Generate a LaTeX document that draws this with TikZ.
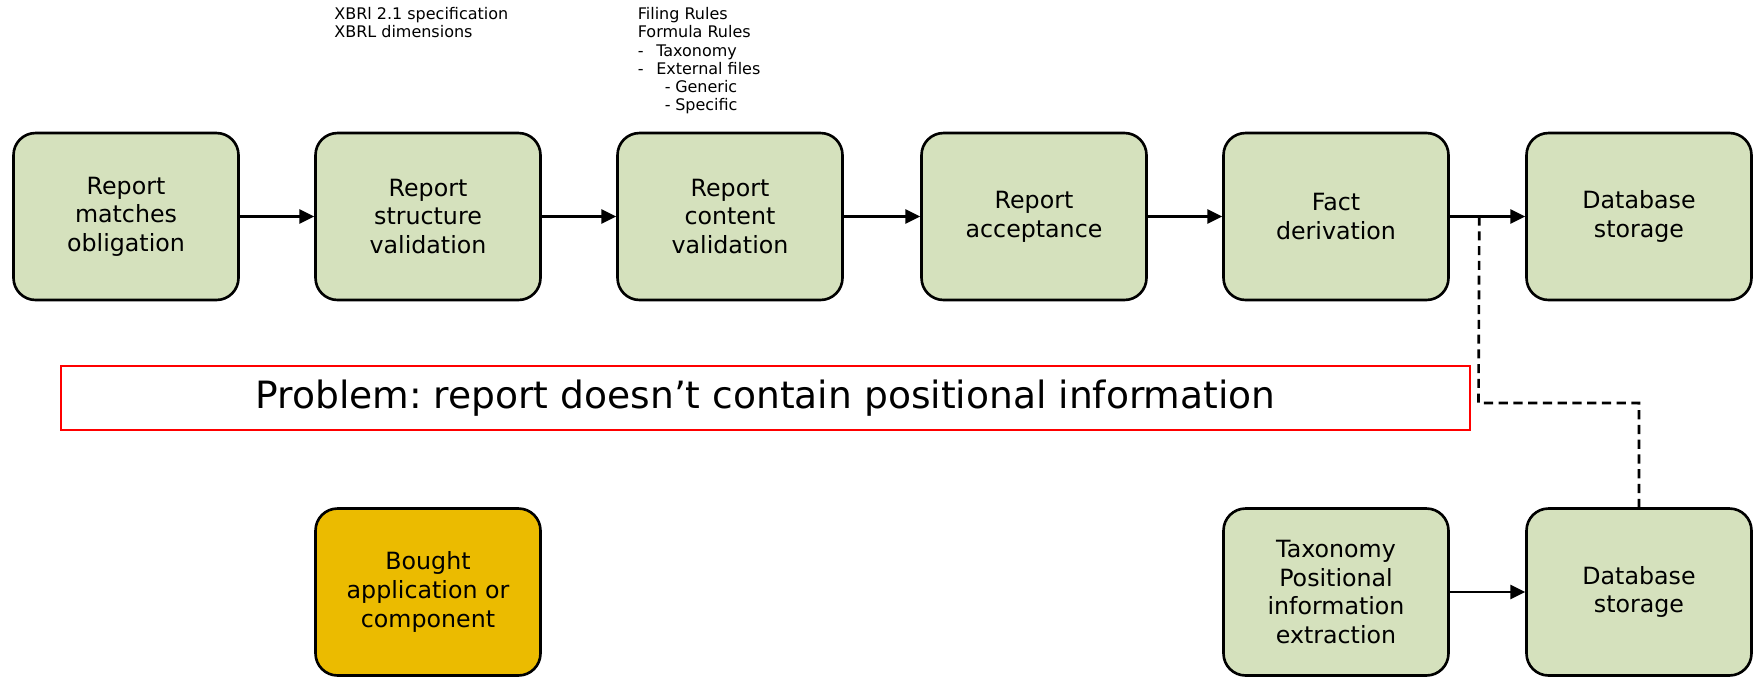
\documentclass[tikz,border=0pt]{standalone}
\usepackage{fontspec}
\setmainfont{DejaVu Sans}
\usetikzlibrary{arrows.meta,calc}
\definecolor{boxgreen}{HTML}{D5E1BD}
\definecolor{boxgold}{HTML}{EBBB00}
\definecolor{alertred}{HTML}{FF0000}
\frenchspacing
\begin{document}
\begin{tikzpicture}[x=0.02cm,y=-0.02cm,
  proc/.style={draw=black, line width=1.5pt, rounded corners=0.44cm, fill=boxgreen,
    minimum width=4.5cm, minimum height=3.34cm, inner sep=0pt, align=center,
    font=\fontsize{13.5}{16.3}\selectfont},
  bought/.style={proc, fill=boxgold},
  flow/.style={line width=1.4pt, -{Triangle[length=8.4pt,width=8pt]}},
  link/.style={line width=1.5pt, dash pattern=on 5.2pt off 3.2pt},
  note/.style={anchor=north west, inner sep=0pt, align=left,
    font=\fontsize{9.1}{10.4}\selectfont},
  alert/.style={draw=alertred, line width=1pt, minimum width=28.2cm, minimum height=1.28cm,
    inner sep=0pt, font=\fontsize{21.4}{25}\selectfont},
]
\useasboundingbox (0,0) rectangle (1756,677);

% main processing chain
\node[proc] (match)   at (126,216.5)  {Report\\matches\\obligation};
\node[proc] (struct)  at (428,216.5)  {Report\\structure\\validation};
\node[proc] (content) at (730,216.5)  {Report\\content\\validation};
\node[proc] (accept)  at (1034,216.5) {Report\\acceptance};
\node[proc] (fact)    at (1336,216.5) {Fact\\derivation};
\node[proc] (store)   at (1639,216.5) {Database\\storage};

% positional information branch
\node[proc] (taxo)    at (1336,592) {Taxonomy\\Positional\\information\\extraction};
\node[proc] (store2)  at (1639,592) {Database\\storage};

% legend box
\node[bought] (buy)   at (428,592) {Bought\\application or\\component};

% remarks above the validation steps
\node[note] (xbrl) at (334,7) {XBRl 2.1 specification\\XBRL dimensions};
\node[note] (rules) at (637.5,7) {Filing Rules\\Formula Rules\\%
  \makebox[10.5pt][l]{-}Taxonomy\\%
  \makebox[10.5pt][l]{-}External files\\%
  \hspace*{15.4pt}\makebox[5.9pt][l]{-}Generic\\%
  \hspace*{15.4pt}\makebox[5.9pt][l]{-}Specific};

% problem statement
\node[alert] (problem) at (765.5,398) {Problem: report doesn’t contain positional information};

% connectors
\draw[flow] (match) -- (struct);
\draw[flow] (struct) -- (content);
\draw[flow] (content) -- (accept);
\draw[flow] (accept) -- (fact);
\draw[flow] (fact) -- (store);
\draw[flow] (taxo) -- (store2);

\coordinate (branch) at ($(fact.east)+(29.5,0)$);
\coordinate (turn) at (1478.5,403);
\draw[link] (branch) -- (turn) -| (store2.north);
\end{tikzpicture}
\end{document}
